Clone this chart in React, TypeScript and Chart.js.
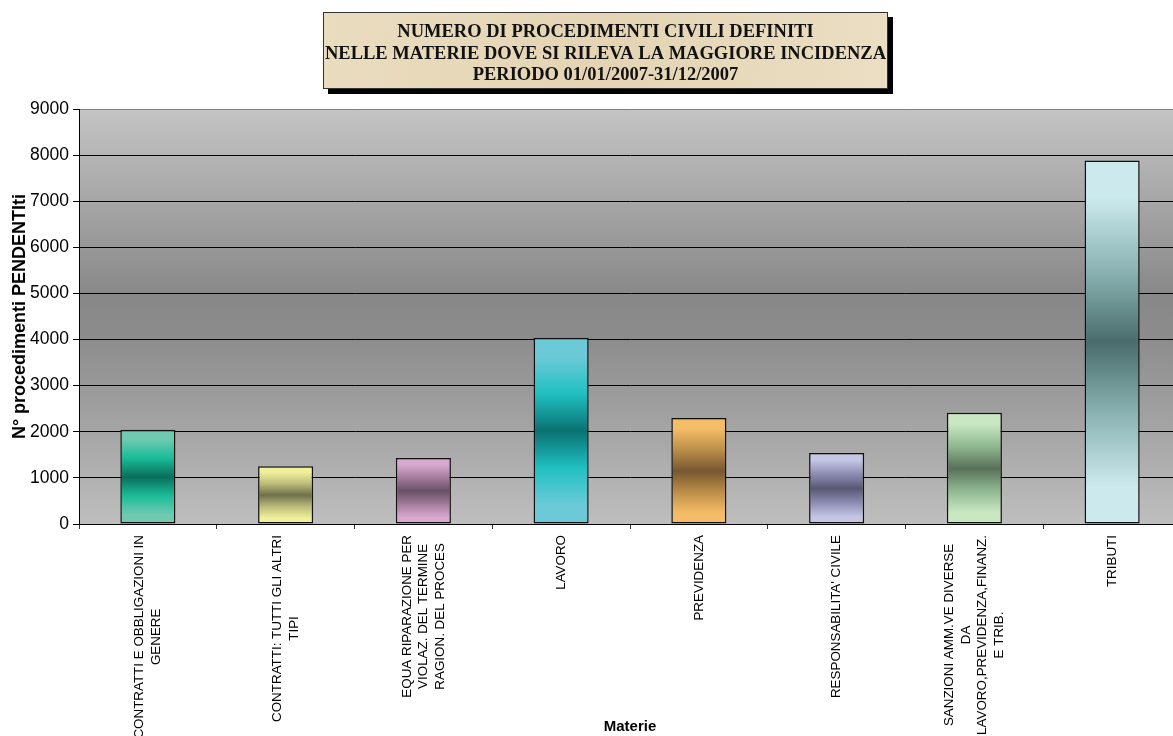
import React, { useEffect, useRef } from "react";
import { Chart, registerables } from "chart.js";

Chart.register(...registerables);

const titleLines = [
  "NUMERO DI PROCEDIMENTI CIVILI DEFINITI",
  "NELLE MATERIE DOVE SI RILEVA LA MAGGIORE INCIDENZA",
  "PERIODO 01/01/2007-31/12/2007",
];

const categories: string[][] = [
  ["CONTRATTI E OBBLIGAZIONI IN", "GENERE"],
  ["CONTRATTI: TUTTI GLI ALTRI", "TIPI"],
  ["EQUA RIPARAZIONE PER", "VIOLAZ. DEL TERMINE", "RAGION. DEL PROCES"],
  ["LAVORO"],
  ["PREVIDENZA"],
  ["RESPONSABILITA' CIVILE"],
  ["SANZIONI AMM.VE DIVERSE", "DA", "LAVORO,PREVIDENZA,FINANZ.", "E TRIB."],
  ["TRIBUTI"],
];

const values = [2045, 1250, 1430, 4040, 2300, 1540, 2410, 7885];

const barLight = ["#70c9b1", "#f0f09a", "#d8a9d0", "#6ccad8", "#f5bd68", "#c5c5e6", "#c9e8c2", "#cceaee"];
const barMid = ["#1abc98", "#bcbc7c", "#a47c9c", "#20c0c2", "#bc8e48", "#8c8cb2", "#90b890", "#8cb4b4"];
const barDark = ["#0a6e5c", "#70704a", "#685068", "#0a7272", "#785830", "#585872", "#587058", "#4a6c6c"];

const yTitle = "N° procedimenti PENDENTIti";
const xTitle = "Materie";

const Y_MIN = 0;
const Y_MAX = 9000;
const Y_STEP = 1000;

export default function App() {
  const ref = useRef<HTMLCanvasElement | null>(null);

  useEffect(() => {
    const canvas = ref.current;
    if (!canvas) return;

    const bgPlugin = {
      id: "plotBg",
      beforeDraw(chart: any) {
        const { ctx, chartArea } = chart;
        if (!chartArea) return;
        ctx.save();
        ctx.fillStyle = "#ffffff";
        ctx.fillRect(0, 0, chart.width, chart.height);
        const g = ctx.createLinearGradient(0, chartArea.top, 0, chartArea.bottom);
        g.addColorStop(0, "#c4c4c4");
        g.addColorStop(0.45, "#888888");
        g.addColorStop(0.55, "#8c8c8c");
        g.addColorStop(1, "#bebebe");
        ctx.fillStyle = g;
        ctx.fillRect(chartArea.left, chartArea.top, chartArea.right - chartArea.left, chartArea.bottom - chartArea.top);
        ctx.restore();
      },
    };

    const titlePlugin = {
      id: "titleBox",
      afterDraw(chart: any) {
        const ctx = chart.ctx;
        const x = 323, y = 12, w = 565, h = 77;
        ctx.save();
        ctx.fillStyle = "#000";
        ctx.fillRect(x + 5, y + 5, w, h);
        const g = ctx.createLinearGradient(x, y, x + w, y + h);
        g.addColorStop(0, "#eadcbf");
        g.addColorStop(0.5, "#e4d4b4");
        g.addColorStop(1, "#ebdec2");
        ctx.fillStyle = g;
        ctx.fillRect(x, y, w, h);
        ctx.strokeStyle = "#333";
        ctx.lineWidth = 1;
        ctx.strokeRect(x + 0.5, y + 0.5, w - 1, h - 1);
        ctx.fillStyle = "#111";
        ctx.font = "bold 18.5px 'Liberation Serif', 'Times New Roman', serif";
        ctx.textAlign = "center";
        ctx.textBaseline = "alphabetic";
        const cx = x + w / 2;
        const ys = [36.5, 58.5, 80];
        titleLines.forEach((t, i) => ctx.fillText(t, cx, ys[i]));
        ctx.restore();
      },
    };

    const xLabelPlugin = {
      id: "xLabels",
      afterDraw(chart: any) {
        const ctx = chart.ctx;
        const xs = chart.scales.x;
        const axisY = chart.chartArea.bottom;
        ctx.save();
        ctx.font = "13.4px 'Liberation Sans', Arial, sans-serif";
        ctx.fillStyle = "#000";
        ctx.textAlign = "center";
        ctx.textBaseline = "middle";
        const lineH = 16.5;
        categories.forEach((lines, i) => {
          const px = xs.getPixelForValue(i);
          const maxW = Math.max(...lines.map((l) => ctx.measureText(l).width));
          const cy = axisY + 11 + maxW / 2;
          ctx.save();
          ctx.translate(px, cy);
          ctx.rotate(-Math.PI / 2);
          const n = lines.length;
          lines.forEach((l, j) => {
            ctx.fillText(l, 0, (j - (n - 1) / 2) * lineH);
          });
          ctx.restore();
        });
        ctx.restore();
      },
    };

    const gradFor = (c: any) => {
      const i = c.dataIndex;
      const chart = c.chart;
      const ys = chart.scales && chart.scales.y;
      if (i == null || !ys || !chart.chartArea) return barLight[i ?? 0];
      const top = ys.getPixelForValue(values[i]);
      const bottom = ys.getPixelForValue(0);
      if (!isFinite(top) || !isFinite(bottom) || top === bottom) return barLight[i];
      const g = chart.ctx.createLinearGradient(0, top, 0, bottom);
      g.addColorStop(0, barLight[i]);
      g.addColorStop(0.1, barLight[i]);
      g.addColorStop(0.3, barMid[i]);
      g.addColorStop(0.5, barDark[i]);
      g.addColorStop(0.7, barMid[i]);
      g.addColorStop(0.9, barLight[i]);
      g.addColorStop(1, barLight[i]);
      return g;
    };

    const chart = new Chart(canvas, {
      type: "bar",
      data: {
        labels: categories.map((c) => c.join(" ")),
        datasets: [
          {
            data: values,
            backgroundColor: gradFor as any,
            borderColor: "#111",
            borderWidth: 1.5,
            borderSkipped: false,
            barPercentage: 0.4,
            categoryPercentage: 1,
          },
        ],
      },
      options: {
        responsive: false,
        animation: false,
        devicePixelRatio: 1,
        layout: { padding: { top: 109, left: 0, right: 0, bottom: 0 } },
        plugins: {
          legend: { display: false },
          tooltip: { enabled: false },
          title: { display: false },
        },
        scales: {
          x: {
            afterFit: (s: any) => {
              s.height = 212;
            },
            ticks: { display: false, autoSkip: false },
            grid: {
              display: true,
              offset: true,
              drawOnChartArea: false,
              drawTicks: true,
              tickLength: 5,
              color: "#333",
            },
            border: { display: true, color: "#000", width: 1 },
            title: {
              display: true,
              text: xTitle,
              color: "#000",
              font: { family: "'Liberation Sans', Arial, sans-serif", size: 15, weight: "bold" },
              padding: { top: 0, bottom: 0 },
            },
          },
          y: {
            min: Y_MIN,
            max: Y_MAX,
            afterFit: (s: any) => {
              s.width = 79;
            },
            ticks: {
              stepSize: Y_STEP,
              color: "#000",
              padding: 4,
              font: { family: "'Liberation Sans', Arial, sans-serif", size: 17.5 },
              callback: (v: any) => String(v),
            },
            grid: {
              color: (c: any) => (c.tick && c.tick.value === Y_MAX ? "#808080" : "#000"),
              tickColor: "#000",
              tickLength: 6,
              lineWidth: 1,
            },
            border: { display: true, color: "#000", width: 1 },
            title: {
              display: true,
              text: yTitle,
              color: "#000",
              font: { family: "'Liberation Sans', Arial, sans-serif", size: 18, weight: "bold" },
              padding: { top: 9, bottom: 0 },
            },
          },
        },
      },
      plugins: [bgPlugin, titlePlugin, xLabelPlugin],
    });

    return () => chart.destroy();
  }, []);

  return (
    <div
      style={{
        position: "absolute",
        left: 0,
        top: 0,
        width: 1173,
        height: 736,
        overflow: "hidden",
        background: "#fff",
      }}
    >
      <canvas ref={ref} width={1181} height={736} style={{ display: "block", width: 1181, height: 736 }} />
    </div>
  );
}
